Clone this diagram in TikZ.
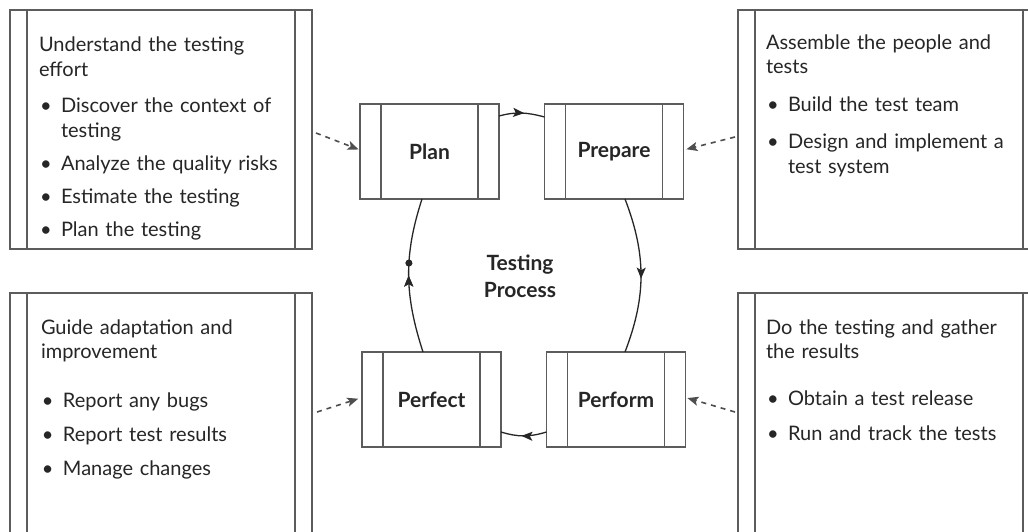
\documentclass[tikz,border=0pt]{standalone}
\usepackage{fontspec}
\setmainfont{Lato}
\usetikzlibrary{arrows.meta,calc,decorations.markings}

\definecolor{ink}{HTML}{262626}
\definecolor{framegray}{HTML}{5C5C5C}

% bullet item with hanging indent
\newcommand\bitem[1]{\par\hangindent=22pt\hangafter=1\noindent\hbox to 22pt{\hskip1pt\textbullet\hfil}#1\par}
\newcommand\firstline{\rule{0pt}{15pt}}

\tikzset{
  x=1pt, y=1pt,
  frame/.style={draw=framegray, line width=1.5pt, inner sep=0pt, outer sep=0pt},
  sidebars/.style={path picture={
      \draw[framegray, line width=1.5pt]
        ([xshift=#1]path picture bounding box.north west) -- ([xshift=#1]path picture bounding box.south west)
        ([xshift=-#1]path picture bounding box.north east) -- ([xshift=-#1]path picture bounding box.south east);}},
  notebox/.style={frame, sidebars=17pt, minimum width=302pt},
  stagebox/.style={frame, sidebars=21pt, minimum width=139pt, minimum height=95pt,
    font=\bfseries\fontsize{21}{25}\selectfont, text=ink},
  notetext/.style={anchor=north west, inner sep=0pt, outer sep=0pt, text width=290pt,
    text=ink, font=\fontsize{20}{24.5}\selectfont},
  flow/.style={draw=ink, line width=1.3pt, postaction={decorate},
    decoration={markings, mark=at position #1 with {\arrow{Stealth[length=11pt,width=9pt,inset=2.5pt]}}}},
  feed/.style={draw=framegray!85!black, line width=1.6pt, dash pattern=on 5pt off 5pt, -{Stealth[length=11pt,width=9pt,inset=2.5pt]}},
}

\begin{document}
\begin{tikzpicture}
\useasboundingbox (0,0) rectangle (1028,531);
\fill[white] (0,0) rectangle (1028,531);
\clip (0,0) rectangle (1028,531);

% outer note frames
\node[notebox, minimum height=239pt] (tlbox) at (161,401.5) {};
\node[notebox, minimum height=239pt] (trbox) at (889,401.5) {};
\node[notebox, minimum height=241pt] (blbox) at (161,117.5) {};
\node[notebox, minimum height=241pt] (brbox) at (889,117.5) {};

% note texts
\node[notetext] (tltext) at (39,494) {\firstline Understand the testing\newline effort\par\vspace{12pt}%
  \bitem{Discover the context of\newline testing}\vspace{8.5pt}%
  \bitem{Analyze the quality risks}\vspace{8.5pt}%
  \bitem{Estimate the testing}\vspace{8.5pt}%
  \bitem{Plan the testing}};
\node[notetext] (trtext) at (766,496.5) {\firstline Assemble the people and\newline tests\par\vspace{13.5pt}%
  \bitem{Build the test team}\vspace{12.5pt}%
  \bitem{Design and implement a\newline test system}};
\node[notetext] (bltext) at (41,212) {\firstline Guide adaptation and\newline improvement\par\vspace{24pt}%
  \bitem{Report any bugs}\vspace{9.5pt}%
  \bitem{Report test results}\vspace{9.5pt}%
  \bitem{Manage changes}};
\node[notetext] (brtext) at (766,212) {\firstline Do the testing and gather\newline the results\par\vspace{22pt}%
  \bitem{Obtain a test release}\vspace{10.5pt}%
  \bitem{Run and track the tests}};

% process stages
\node[stagebox] (plan)    at (429.5,379.5) {Plan};
\node[stagebox] (prepare) at (614,379.5)   {Prepare};
\node[stagebox] (perfect) at (431.5,131.5) {Perfect};
\node[stagebox] (perform) at (616,131.5)   {Perform};

\node[font=\bfseries\fontsize{21}{27}\selectfont, text=ink, align=center, inner sep=0pt] (core) at (520,255) {Testing\\Process};

% cycle
\draw[flow=0.55] ($(plan.north east)+(0,-12)$) to[out=15,in=165] ($(prepare.north west)+(0,-13)$);
\draw[flow=0.52] ($(prepare.south)+(11,0)$) to[out=-69,in=69] ($(perform.north)+(9,0)$);
\draw[flow=0.55] ($(perform.west)+(0,-32.5)$) to[out=197,in=-17] ($(perfect.east)+(0,-32.5)$);
\draw[flow=0.5, postaction={decorate}, decoration={markings, mark=at position 0.58 with {\fill[ink] (0,0) circle (3.4pt);}}]
  ($(perfect.north)+(-8.5,0)$) to[out=108,in=-108] ($(plan.south)+(-7.5,0)$);

% activities feeding each stage
\draw[feed, shorten >=1.5pt] ($(tlbox.east)+(4,-3.5)$) -- ($(plan.west)+(0,1.5)$);
\draw[feed, shorten >=3pt]   ($(trbox.west)+(-3,-7.5)$) -- ($(prepare.east)+(0,1.5)$);
\draw[feed, shorten >=4pt]   ($(blbox.east)+(5,1.5)$) -- ($(perfect.west)+(0,2)$);
\draw[feed, shorten >=2pt]   ($(brbox.west)+(-3,1.5)$) -- ($(perform.east)+(0,2)$);
\end{tikzpicture}
\end{document}
